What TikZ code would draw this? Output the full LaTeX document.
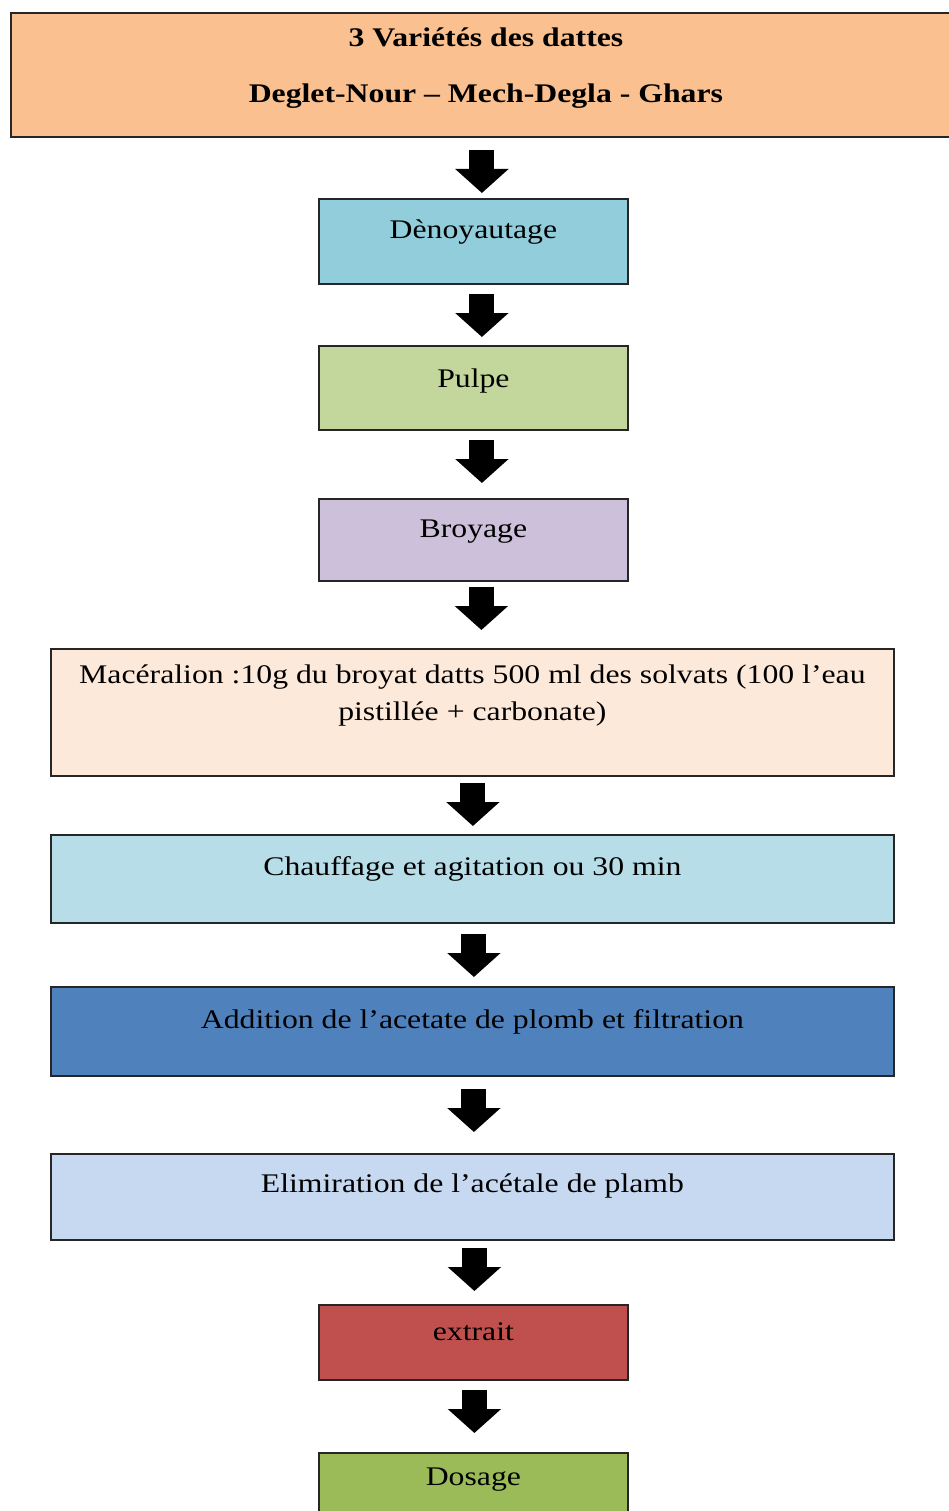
\documentclass[tikz,border=0pt]{standalone}
\usepackage{fontspec}
\setmainfont{Liberation Serif}[FakeStretch=1.18]
\usetikzlibrary{arrows.meta}

\definecolor{peach}{HTML}{FAC090}
\definecolor{denblue}{HTML}{92CDDC}
\definecolor{pulpgreen}{HTML}{C3D69B}
\definecolor{lilac}{HTML}{CCC0DA}
\definecolor{macpink}{HTML}{FDE9D9}
\definecolor{chaufblue}{HTML}{B7DEE8}
\definecolor{addblue}{HTML}{4F81BD}
\definecolor{elimblue}{HTML}{C6D9F1}
\definecolor{extred}{HTML}{C0504D}
\definecolor{dosgreen}{HTML}{9BBB59}

\begin{document}
\begin{tikzpicture}
  [x=1pt,y=-1pt,
   every node/.style={font=\fontsize{26.9}{37}\selectfont},
   box/.style={draw=black!85,line width=1.8pt,anchor=north west,inner sep=0pt},
   small/.style={box,minimum width=309pt},
   wide/.style={box,minimum width=843pt},
   txt/.style={anchor=base,align=center,inner sep=0pt},
   blockarrow/.style={line width=25pt,-{Triangle[width=52pt,length=24pt]}}]
  \useasboundingbox (0,0) rectangle (948,1511);
  % boxes
  \node[box,fill=peach,minimum width=950pt,minimum height=124pt] (vars) at (10,12) {};
  \node[small,fill=denblue,minimum height=85pt] (den) at (318,198) {};
  \node[small,fill=pulpgreen,minimum height=84pt] (pulpe) at (318,345) {};
  \node[small,fill=lilac,minimum height=82pt] (broy) at (318,498) {};
  \node[wide,fill=macpink,minimum height=127pt] (mac) at (50,648) {};
  \node[wide,fill=chaufblue,minimum height=88pt] (chauf) at (50,834) {};
  \node[wide,fill=addblue,minimum height=89pt] (add) at (50,986) {};
  \node[wide,fill=elimblue,minimum height=86pt] (elim) at (50,1153) {};
  \node[small,fill=extred,minimum height=75pt] (ext) at (318,1304) {};
  \node[small,fill=dosgreen,minimum height=80pt] (dos) at (318,1452) {};
  % texts (base = last line)
  \node[txt,font=\bfseries\fontsize{26.9}{56}\selectfont] (varsT) at ([yshift=-91pt]vars.north)
    {3 Variétés des dattes\\Deglet-Nour – Mech-Degla - Ghars};
  \node[txt] (denT) at ([yshift=-41pt]den.north) {Dènoyautage};
  \node[txt] (pulpeT) at ([yshift=-42pt]pulpe.north) {Pulpe};
  \node[txt] (broyT) at ([yshift=-39pt]broy.north) {Broyage};
  \node[txt] (macT) at ([yshift=-72pt]mac.north)
    {Macéralion :10g du broyat datts 500 ml des solvats (100 l’eau\\pistillée + carbonate)};
  \node[txt] (chaufT) at ([yshift=-41pt]chauf.north) {Chauffage et agitation ou 30 min};
  \node[txt] (addT) at ([yshift=-42pt]add.north) {Addition de l’acetate de plomb et filtration};
  \node[txt] (elimT) at ([yshift=-39pt]elim.north) {Elimiration de l’acétale de plamb};
  \node[txt] (extT) at ([yshift=-36pt]ext.north) {extrait};
  \node[txt] (dosT) at ([yshift=-33pt]dos.north) {Dosage};
  % arrows
  \foreach \a/\b/\s/\e/\dx in {vars/den/12/5/8.5,den/pulpe/9/8/8.5,pulpe/broy/9/15/8.5,
      broy/mac/5/18/9,mac/chauf/6/8/0.5,chauf/add/10/9/1.5,add/elim/12/21/1.5,
      elim/ext/7/13/1,ext/dos/9/19/1}
    \draw[blockarrow,shorten <=\s pt,shorten >=\e pt]
      ([xshift=\dx pt]\b.north |- \a.south) -- ([xshift=\dx pt]\b.north);
\end{tikzpicture}
\end{document}
